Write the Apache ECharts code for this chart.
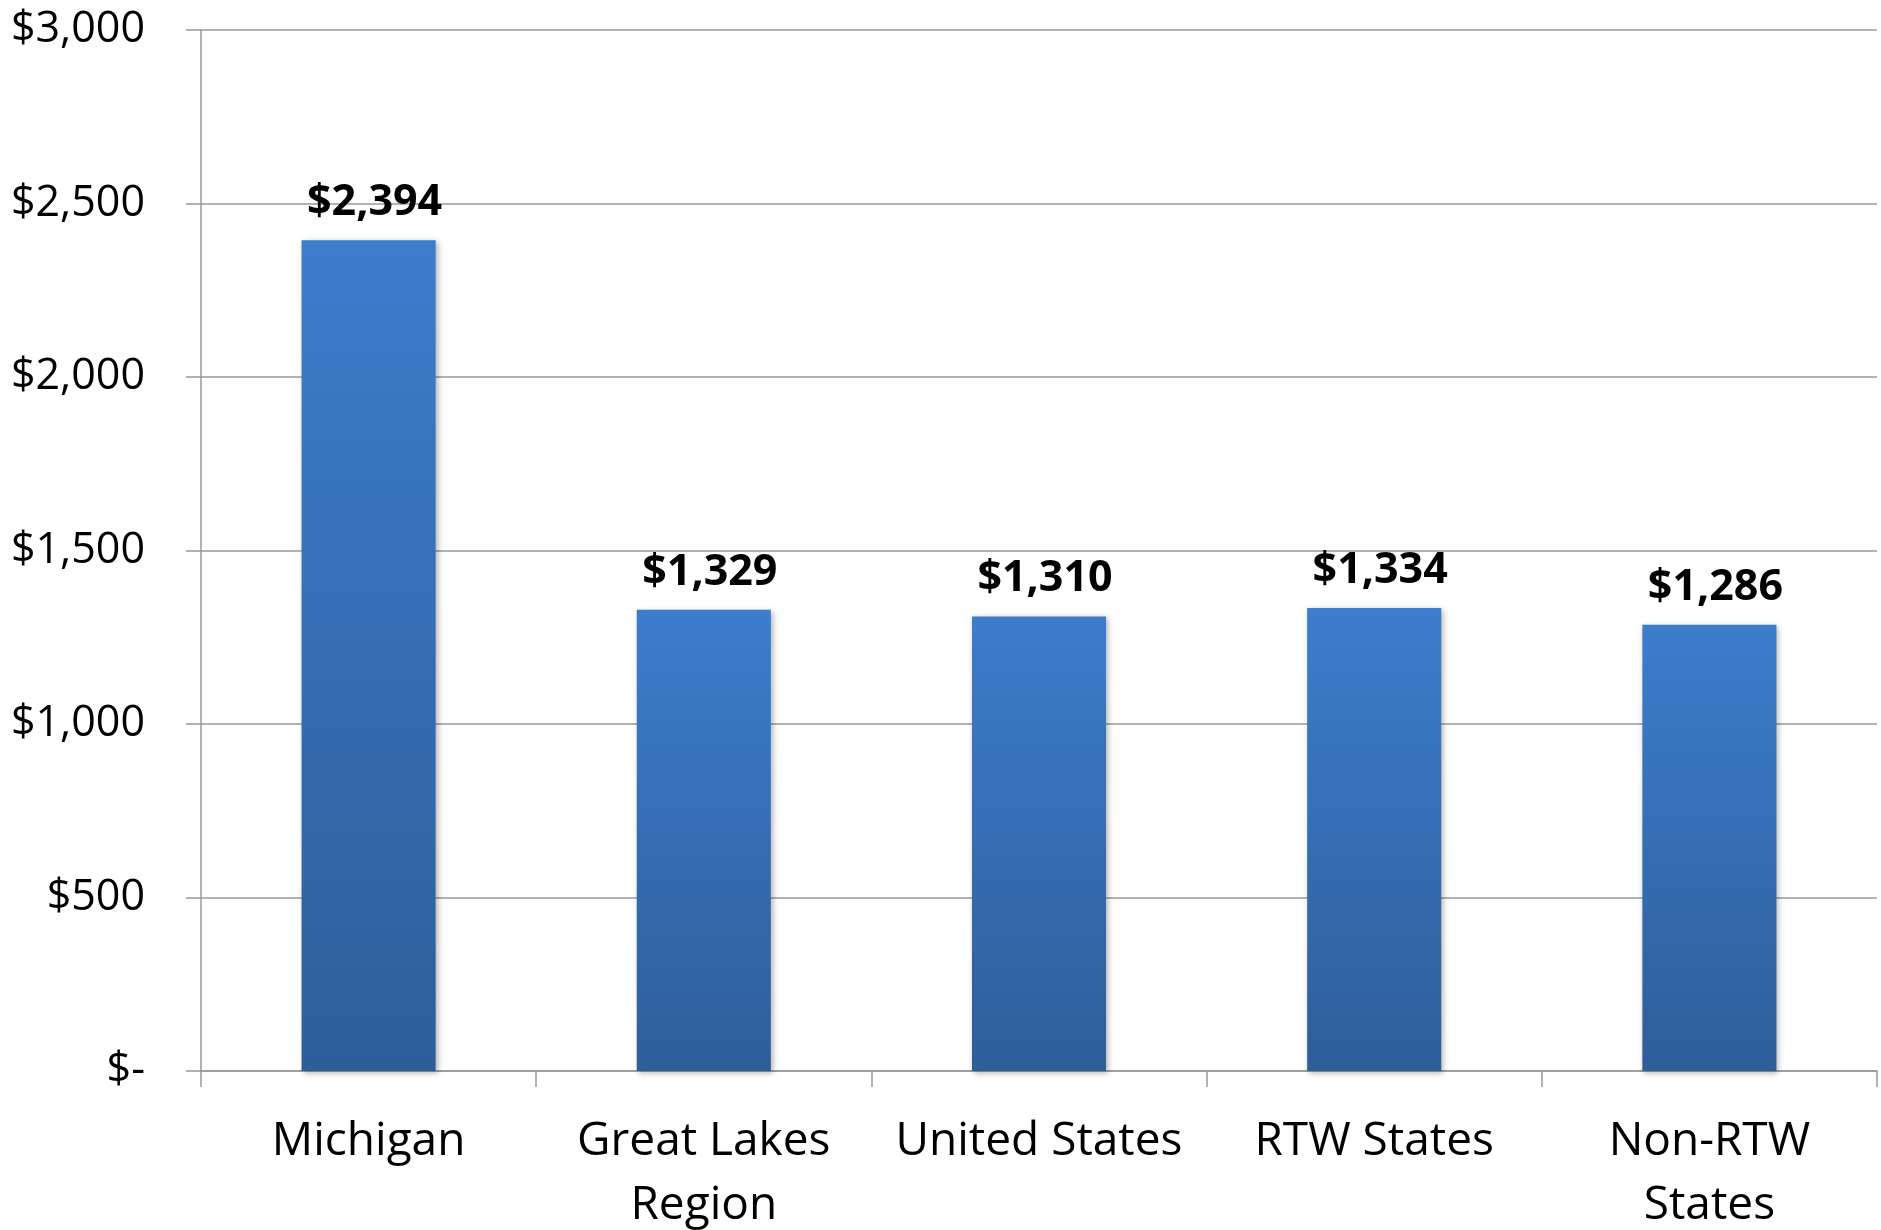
<!DOCTYPE html>
<html>
<head>
    <meta charset="utf-8">
    <title>ECharts</title>
    <script src="https://cdn.jsdelivr.net/npm/echarts@6/dist/echarts.min.js"></script>
    <style>
        html, body { margin: 0; padding: 0; background: #fff; }
    </style>
</head>
<body>
    <div id="main" style="width: 1881px;height:1230px;"></div>
    <script type="text/javascript">
        // data
        var categories = ['Michigan', 'Great Lakes\nRegion', 'United States', 'RTW States', 'Non-RTW\nStates'];
        var values = [2394, 1329, 1310, 1334, 1286];
        var yTicks = [0, 500, 1000, 1500, 2000, 2500, 3000];

        function money(v) {
            if (v === 0) return '$-';
            return '$' + v.toString().replace(/\B(?=(\d{3})+(?!\d))/g, ',');
        }

        var myChart = echarts.init(document.getElementById('main'));

        var option = {
            animation: false,
            textStyle: { fontFamily: 'Open Sans' },
            grid: { left: 201, right: 4, top: 30, bottom: 159, outerBoundsMode: 'none', containLabel: false },
            xAxis: {
                type: 'category',
                data: categories,
                axisLine: { lineStyle: { color: '#999', width: 1.5 } },
                axisTick: { show: true, length: 16, lineStyle: { color: '#999', width: 1.5 } },
                axisLabel: {
                    color: '#000',
                    fontSize: 46,
                    lineHeight: 64,
                    margin: 39,
                    interval: 0
                }
            },
            yAxis: {
                type: 'value',
                min: yTicks[0],
                max: yTicks[yTicks.length - 1],
                interval: 500,
                axisLine: { show: true, lineStyle: { color: '#999', width: 1.5 } },
                axisTick: { show: true, length: 15, lineStyle: { color: '#999', width: 1.5 } },
                splitLine: { lineStyle: { color: '#999', width: 1.5 } },
                axisLabel: {
                    color: '#000',
                    fontSize: 43,
                    margin: 56,
                    formatter: money
                }
            },
            series: [{
                type: 'bar',
                data: values,
                barWidth: '40%',
                itemStyle: {
                    color: new echarts.graphic.LinearGradient(0, 0, 0, 1, [
                        { offset: 0, color: '#3c7dcc' },
                        { offset: 1, color: '#2e5e99' }
                    ]),
                    shadowBlur: 6,
                    shadowColor: 'rgba(0,0,0,0.3)',
                    shadowOffsetX: 2,
                    shadowOffsetY: 2
                },
                label: {
                    show: true,
                    position: 'top',
                    distance: 16,
                    offset: [6, 0],
                    color: '#000',
                    fontSize: 43,
                    fontWeight: 'bold',
                    formatter: function (p) { return money(p.value); }
                }
            }]
        };

        myChart.setOption(option);
    </script>
</body>
</html>
